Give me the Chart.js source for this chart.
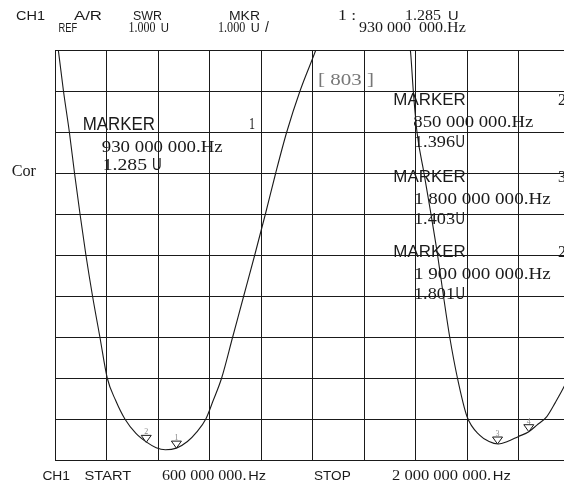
<!DOCTYPE html>
<html><head><meta charset="utf-8">
<script src="https://cdn.jsdelivr.net/npm/chart.js@4/dist/chart.umd.min.js"></script>
<style>
html,body{margin:0;padding:0;background:#fff;overflow:hidden;width:564px;height:485px}
#wrap{position:absolute;left:0;top:0;width:600px;height:485px}
</style></head><body>
<div id="wrap"><canvas id="c" width="600" height="485"></canvas></div>
<script>
// Trace: frequency (MHz) vs SWR
const freqMHz = [600, 609, 623, 639, 653, 668, 684, 702, 722, 742, 765, 790, 820, 850, 875, 900, 930, 960, 985, 1010, 1030, 1053, 1083, 1113, 1143, 1172, 1200, 1230, 1266, 1309, 1340, 1540, 1566, 1574, 1584, 1603, 1622, 1640, 1656, 1673, 1694, 1720, 1755, 1780, 1805, 1830, 1859, 1888, 1910, 1937, 1960, 1984, 2000];
const swr     = [11.7, 11.0, 10.0, 9.0, 8.0, 7.0, 6.0, 5.0, 4.0, 3.0, 2.45, 2.0, 1.65, 1.43, 1.3, 1.25, 1.29, 1.45, 1.68, 2.0, 2.45, 3.0, 4.0, 5.0, 6.0, 7.0, 8.0, 9.0, 10.0, 11.0, 11.8, 11.8, 11.0, 10.0, 9.0, 8.0, 7.0, 6.0, 5.0, 4.0, 3.0, 2.06, 1.6, 1.45, 1.39, 1.45, 1.57, 1.69, 1.85, 2.06, 2.4, 2.79, 3.1];
// Markers (triangles)
const markerNames = ['1', '2', '3', '4'];
const markerFreq  = [930, 848, 1803, 1888];
const markerSwr   = [1.29, 1.43, 1.39, 1.69];
// Axes: START / STOP and REF / scale
const xStart = 600, xStop = 2000, xStep = 140;
const yRef = 1, yTop = 11, yStep = 1;

const SANS = '"Liberation Sans", Arial, sans-serif';
const SERIF = '"Liberation Serif", "Times New Roman", serif';
const INK = '#1a1a1a';

function txt(ctx, s, x0, x1, yc, size, fam, color, capRatio) {
  ctx.save();
  ctx.font = size + 'px ' + fam;
  const w = ctx.measureText(s).width;
  const sx = x1 == null ? 1 : (x1 - x0) / w;
  const cap = size * (capRatio || 0.7);
  ctx.translate(x0, yc + cap / 2);
  ctx.scale(sx, 1);
  ctx.fillStyle = color || INK;
  ctx.textBaseline = 'alphabetic';
  ctx.fillText(s, 0, 0);
  ctx.restore();
}

const annot = {
  id: 'annot',
  afterDatasetsDraw(chart) {
    const ctx = chart.ctx;
    const xs = chart.scales.x, ys = chart.scales.y;
    for (let i = 0; i < markerFreq.length; i++) {
      const px = xs.getPixelForValue(markerFreq[i]);
      const py = ys.getPixelForValue(markerSwr[i]);
      ctx.save();
      ctx.beginPath();
      ctx.moveTo(px, py);
      ctx.lineTo(px - 5, py - 7);
      ctx.lineTo(px + 5, py - 7);
      ctx.closePath();
      ctx.fillStyle = '#fff';
      ctx.fill();
      ctx.strokeStyle = INK;
      ctx.lineWidth = 1;
      ctx.stroke();
      ctx.restore();
      txt(ctx, markerNames[i], px - 2, px + 2, py - 11, 8, SERIF, '#888');
    }
  },
  afterDraw(chart) {
    const ctx = chart.ctx;
    // header row 1
    txt(ctx, 'CH1', 16, 45, 15.5, 12.5, SANS);
    txt(ctx, 'A/R', 74, 102, 15.5, 12.5, SANS);
    txt(ctx, 'SWR', 133, 162, 15.5, 12.5, SANS);
    txt(ctx, 'MKR', 229, 260, 15.5, 12.5, SANS);
    txt(ctx, '1 :', 338, 356, 15.5, 14.5, SERIF, INK, 0.66);
    txt(ctx, '1.285', 405, 441, 15.5, 14.5, SERIF, INK, 0.66);
    txt(ctx, 'U', 448, 458.6, 15.5, 12.5, SANS);
    // header row 2
    txt(ctx, 'REF', 58.6, 77.3, 27, 13.5, SANS);
    txt(ctx, '1.000', 128.4, 155.4, 27, 14.5, SERIF, INK, 0.66);
    txt(ctx, 'U', 160.8, 169, 27, 13, SANS);
    txt(ctx, '1.000', 218, 245.3, 27, 14.5, SERIF, INK, 0.66);
    txt(ctx, 'U', 250.7, 259.7, 27, 13, SANS);
    txt(ctx, '/', 265, null, 27, 14, SANS);
    txt(ctx, '930 000  000.Hz', 359, 465.8, 27, 14.5, SERIF, INK, 0.66);
    // footer
    txt(ctx, 'CH1', 42.4, 70, 475.5, 13.5, SANS);
    txt(ctx, 'START', 84.5, 131.3, 475.5, 13.5, SANS);
    txt(ctx, '600 000 000.', 162, 246.4, 475.5, 14.5, SERIF, INK, 0.66);
    txt(ctx, 'Hz', 248.2, 266, 475.5, 13.5, SANS);
    txt(ctx, 'STOP', 314, 350.7, 475.5, 13.5, SANS);
    txt(ctx, '2 000 000 000.', 392, 491, 475.5, 14.5, SERIF, INK, 0.66);
    txt(ctx, 'Hz', 492.8, 510.8, 475.5, 13.5, SANS);
    // left label
    txt(ctx, 'Cor', 11.7, 36, 170, 17, SERIF, INK, 0.72);
    // in-plot marker 1 block
    txt(ctx, 'MARKER', 82.7, 155, 123.5, 18, SANS);
    txt(ctx, '1', 249, 255, 123.5, 17, SERIF, INK, 0.66);
    txt(ctx, '930 000 000.Hz', 101.7, 222.7, 146, 17.5, SERIF, INK, 0.66);
    txt(ctx, '1.285', 102.7, 147, 164, 17.5, SERIF, INK, 0.66);
    txt(ctx, 'U', 152, 161.7, 164, 17, SANS);
    // bracket
    txt(ctx, '[ 803 ]', 318, 374, 79, 17, SERIF, '#777', 0.7);
    // right marker blocks
    const blocks = [
      ['2', '850 000 000.Hz', 413.3, 533.3, '1.396', 99],
      ['3', '1 800 000 000.Hz', 414, 550.7, '1.403', 176],
      ['2', '1 900 000 000.Hz', 414, 550.7, '1.801', 251]
    ];
    for (const b of blocks) {
      const y0 = b[5];
      txt(ctx, 'MARKER', 393.3, 465.7, y0, 16.5, SANS);
      txt(ctx, b[0], 558, 566, y0, 17, SERIF, INK, 0.66);
      txt(ctx, b[1], b[2], b[3], y0 + 22, 17.5, SERIF, INK, 0.66);
      txt(ctx, b[4], 414, 455, y0 + 42, 17.5, SERIF, INK, 0.66);
      txt(ctx, 'U', 455.5, 465, y0 + 42, 16.5, SANS);
    }
  }
};

new Chart(document.getElementById('c'), {
  type: 'line',
  data: {
    datasets: [{
      data: freqMHz.map((f, i) => ({ x: f, y: swr[i] })),
      borderColor: INK,
      borderWidth: 1.1,
      pointRadius: 0,
      cubicInterpolationMode: 'monotone',
      clip: 0,
      fill: false
    }]
  },
  options: {
    responsive: false,
    animation: false,
    events: [],
    layout: { padding: { left: 55, top: 50, right: 30, bottom: 25 } },
    plugins: { legend: { display: false }, tooltip: { enabled: false } },
    scales: {
      x: {
        type: 'linear', min: xStart, max: xStop,
        ticks: { display: false, stepSize: xStep },
        grid: { color: INK, lineWidth: 1, drawTicks: false },
        border: { display: true, color: INK, width: 1 }
      },
      y: {
        type: 'linear', min: yRef, max: yTop,
        ticks: { display: false, stepSize: yStep },
        grid: { color: INK, lineWidth: 1, drawTicks: false },
        border: { display: true, color: INK, width: 1 }
      }
    }
  },
  plugins: [annot]
});
</script>
</body></html>
